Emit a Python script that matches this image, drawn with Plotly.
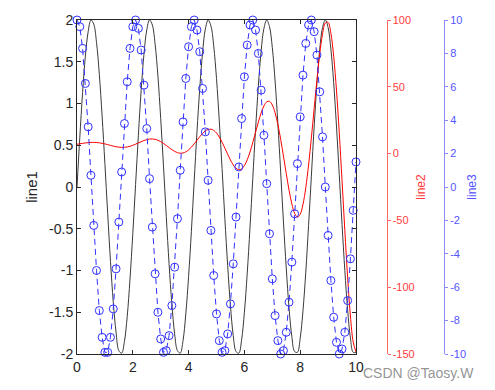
import plotly.graph_objects as go

x_vals = [round(i * 0.1, 1) for i in range(101)]

line1 = [0.00, 0.59, 1.13, 1.57, 1.86, 2.00, 1.95, 1.73, 1.35, 0.85,
         0.28, -0.32, -0.89, -1.38, -1.74, -1.96, -1.99, -1.85, -1.55, -1.10,
         -0.56, 0.03, 0.62, 1.16, 1.59, 1.88, 2.00, 1.94, 1.71, 1.33,
         0.82, 0.25, -0.35, -0.92, -1.40, -1.76, -1.96, -1.99, -1.84, -1.52,
         -1.07, -0.53, 0.07, 0.66, 1.18, 1.61, 1.89, 2.00, 1.93, 1.69,
         1.30, 0.79, 0.22, -0.38, -0.94, -1.42, -1.78, -1.97, -1.99, -1.83,
         -1.50, -1.04, -0.49, 0.10, 0.69, 1.21, 1.63, 1.90, 2.00, 1.92,
         1.67, 1.27, 0.76, 0.18, -0.42, -0.97, -1.45, -1.79, -1.97, -1.98,
         -1.81, -1.48, -1.02, -0.46, 0.13, 0.72, 1.24, 1.65, 1.91, 2.00,
         1.91, 1.65, 1.25, 0.73, 0.15, -0.45, -1.00, -1.47, -1.81, -1.98,
         -1.98]

line2 = [7.0, 7.33, 7.66, 7.97, 8.21, 8.36, 8.39, 8.30, 8.07, 7.71,
         7.25, 6.71, 6.15, 5.60, 5.14, 4.81, 4.65, 4.70, 4.99, 5.49,
         6.20, 7.05, 7.99, 8.94, 9.79, 10.47, 10.88, 10.97, 10.67, 10.00,
         8.96, 7.62, 6.08, 4.47, 2.94, 1.63, 0.71, 0.29, 0.48, 1.32,
         2.80, 4.83, 7.29, 9.98, 12.66, 15.08, 16.98, 18.11, 18.28, 17.39,
         15.40, 12.39, 8.54, 4.14, -0.45, -4.80, -8.47, -11.03, -12.13, -11.48,
         -8.99, -4.69, 1.19, 8.25, 15.93, 23.55, 30.38, 35.67, 38.76, 39.09,
         36.37, 30.52, 21.79, 10.72, -1.90, -14.96, -27.29, -37.60, -44.69, -47.55,
         -45.41, -38.00, -25.51, -8.51, 11.75, 33.69, 55.36, 74.64, 89.39, 97.77,
         98.26, 90.00, 72.83, 47.54, 15.65, -20.44, -57.63, -92.56, -121.55, -141.12,
         -148.43]

line3 = [10.0, 9.6, 8.3, 6.2, 3.6, 0.7, -2.3, -5.0, -7.4, -9.0,
         -9.9, -9.9, -9.0, -7.3, -4.9, -2.1, 0.9, 3.8, 6.3, 8.3,
         9.6, 10.0, 9.5, 8.2, 6.1, 3.5, 0.5, -2.4, -5.2, -7.5,
         -9.1, -9.9, -9.8, -8.9, -7.1, -4.8, -1.9, 1.0, 3.9, 6.5,
         8.4, 9.6, 10.0, 9.4, 8.1, 5.9, 3.3, 0.4, -2.6, -5.3,
         -7.6, -9.2, -9.9, -9.8, -8.8, -7.0, -4.6, -1.8, 1.2, 4.1,
         6.6, 8.5, 9.7, 10.0, 9.4, 8.0, 5.8, 3.1, 0.2, -2.8,
         -5.5, -7.7, -9.2, -10.0, -9.8, -8.7, -6.9, -4.5, -1.6, 1.4,
         4.2, 6.7, 8.6, 9.7, 10.0, 9.3, 7.9, 5.7, 3.0, 0.0,
         -2.9, -5.6, -7.8, -9.3, -10.0, -9.7, -8.7, -6.8, -4.3, -1.4,
         1.5]

x_ticks = [0, 2, 4, 6, 8, 10]
y1_ticks = [-2, -1.5, -1, -0.5, 0, 0.5, 1, 1.5, 2]
y2_ticks = [-150, -100, -50, 0, 50, 100]
y3_ticks = [-10, -8, -6, -4, -2, 0, 2, 4, 6, 8, 10]


def lab(v):
    return "%g" % v


FONT = "Liberation Sans, Arial, sans-serif"

fig = go.Figure()
fig.add_trace(go.Scatter(x=x_vals, y=line1, mode="lines", line=dict(color="#3a3a3a", width=1, shape="spline"),
                         yaxis="y", showlegend=False))
fig.add_trace(go.Scatter(x=x_vals, y=line2, mode="lines", line=dict(color="#ff0000", width=1, shape="spline"),
                         yaxis="y2", showlegend=False))
fig.add_trace(go.Scatter(x=x_vals, y=line3, mode="lines+markers",
                         line=dict(color="#3030ff", width=1, dash="6px,4px"),
                         marker=dict(symbol="circle-open", size=8, color="#3030ff", line=dict(width=1)),
                         yaxis="y3", showlegend=False, cliponaxis=False))

# the page body adds an 8px margin; the figure is sized and laid out to compensate
OFF = 8
FW, FH = 495 - OFF, 390 - OFF
L, T = 77 - OFF, 20 - OFF
B = FH - (354 - OFF)
R = 20
W = FW - L - R
H = FH - T - B
main_end = (356 - 77) / W
red_pos = (386.5 - 77) / W
blue_pos = (444 - 77) / W

fig.update_layout(
    width=FW, height=FH,
    margin=dict(l=L, r=R, t=T, b=B, pad=0, autoexpand=False),
    paper_bgcolor="white", plot_bgcolor="white",
    font=dict(family=FONT, size=13, color="#262626"),
    xaxis=dict(domain=[0, main_end], range=[0, 10], tickvals=x_ticks, ticktext=[lab(v) for v in x_ticks],
               showline=True, linecolor="#262626", linewidth=1, mirror="ticks", ticks="inside", ticklen=4,
               tickcolor="#262626", showgrid=False, zeroline=False, tickfont=dict(size=14, color="#262626"),
               automargin=False),
    yaxis=dict(range=[-2, 2], tickvals=y1_ticks, ticktext=[lab(v) for v in y1_ticks],
               showline=True, linecolor="#262626", linewidth=1, mirror="ticks", ticks="inside", ticklen=4,
               tickcolor="#262626", showgrid=False, zeroline=False, tickfont=dict(size=14, color="#262626"),
               title=dict(text="line1", font=dict(size=15, color="#262626"), standoff=7), automargin=False),
    yaxis2=dict(range=[-150, 100], tickvals=y2_ticks, ticktext=[lab(v) for v in y2_ticks],
                overlaying="y", anchor="free", position=red_pos, side="right",
                showline=True, linecolor="rgba(255,0,0,0.6)", linewidth=1, ticks="outside", ticklen=3,
                tickcolor="rgba(255,0,0,0.6)", showgrid=False, zeroline=False,
                tickfont=dict(size=11, color="#ff3b3b"), automargin=False,
                title=dict(text="line2", font=dict(size=12, color="#ff3b3b"), standoff=2)),
    yaxis3=dict(range=[-10, 10], tickvals=y3_ticks, ticktext=[lab(v) for v in y3_ticks],
                overlaying="y", anchor="free", position=blue_pos, side="right",
                showline=True, linecolor="rgba(0,0,255,0.45)", linewidth=1, ticks="outside", ticklen=3,
                tickcolor="rgba(0,0,255,0.45)", showgrid=False, zeroline=False,
                tickfont=dict(size=11, color="#5555ff"), automargin=False,
                title=dict(text="line3", font=dict(size=12, color="#5555ff"), standoff=2)),
    annotations=[dict(text="CSDN @Taosy.W", xref="paper", yref="paper", x=(476 - 77) / W, y=-(373 - 354) / H,
                      xanchor="right", yanchor="middle", showarrow=False,
                      font=dict(size=14, color="rgba(120,120,120,0.8)", family=FONT))],
)

fig.write_html("out.html")
